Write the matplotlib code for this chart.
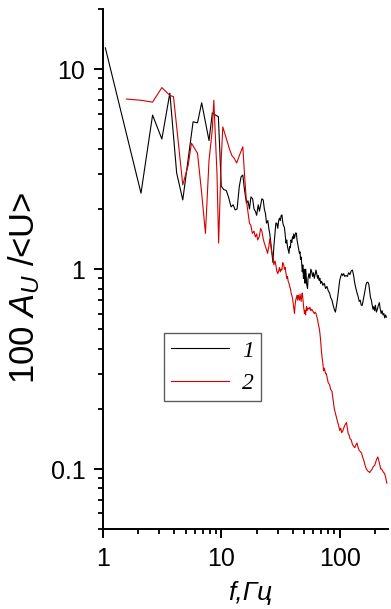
import matplotlib
matplotlib.use("Agg")
import matplotlib.pyplot as plt
from matplotlib.ticker import LogLocator, NullFormatter, FixedLocator, FixedFormatter

plt.rcParams['font.family'] = ['Liberation Sans', 'DejaVu Sans']
plt.rcParams['mathtext.fontset'] = 'custom'
plt.rcParams['mathtext.rm'] = 'Liberation Sans'
plt.rcParams['mathtext.it'] = 'Liberation Sans:italic'

# curve 1 (black)
f1 = [1.05, 2.10, 2.63, 3.15, 3.68, 4.20, 4.73, 5.78, 6.30, 6.83, 7.88, 8.40, 8.93, 9.45,
      10.0, 10.5, 11.0, 11.5, 12.1, 12.6, 13.1, 13.6, 14.2, 14.7, 15.2, 15.7, 16.3, 16.8,
      17.3, 17.8, 18.4, 18.9, 19.4, 19.9, 20.5, 21.0, 21.5, 22.0, 22.6, 23.1, 23.6, 24.1,
      24.7, 25.2, 25.7, 26.2, 26.8, 27.3, 27.8, 28.4, 28.9, 29.4, 30.0, 30.5, 31.0, 31.5,
      32.0, 32.5, 33.1, 33.6, 34.1, 34.6, 35.2, 35.7, 36.2, 36.7, 37.3, 37.8, 38.3, 38.8,
      39.4, 39.9, 40.4, 40.9, 41.5, 42.0, 42.5, 43.1, 43.6, 44.1, 44.6, 45.2, 45.7, 46.2,
      46.7, 47.3, 47.8, 48.3, 48.8, 49.4, 49.9, 50.4, 51.0, 51.5, 52.0, 52.5, 53.0, 53.5,
      54, 55, 56, 57, 58, 59, 60, 61, 62, 63, 64, 65, 66, 67, 68, 69, 70, 71, 72, 74, 76,
      78, 80, 82, 84, 86, 88, 90, 92, 94, 96, 98, 100, 102, 104, 106, 108, 110, 113, 116,
      119, 122, 125, 128, 131, 134, 137, 140, 143, 146, 149, 152, 155, 158, 161, 164, 167,
      170, 173, 176, 179, 182, 185, 188, 191, 194, 197, 200, 204, 208, 212, 216, 220, 224,
      228, 232, 236, 240, 244, 248]
a1 = [12.8, 2.40, 5.90, 4.48, 7.60, 3.03, 2.22, 5.46, 5.40, 6.80, 4.40, 6.05, 5.90, 5.80,
      2.60, 2.50, 2.48, 2.30, 2.05, 2.10, 1.98, 2.00, 2.60, 2.90, 2.96, 2.50, 2.14, 2.20,
      2.00, 2.30, 2.25, 2.00, 1.95, 1.86, 2.10, 1.95, 2.10, 2.25, 2.22, 2.00, 1.90, 1.70,
      1.75, 1.60, 1.50, 1.35, 1.20, 1.08, 1.30, 1.50, 1.70, 1.70, 1.60, 1.75, 1.80, 1.75,
      1.85, 1.87, 1.70, 1.65, 1.62, 1.50, 1.35, 1.40, 1.30, 1.25, 1.20, 1.30, 1.28, 1.40,
      1.36, 1.45, 1.42, 1.50, 1.43, 1.48, 1.52, 1.51, 1.40, 1.35, 1.30, 1.25, 1.20, 1.22,
      1.12, 1.15, 1.05, 0.97, 1.05, 0.90, 1.00, 0.92, 0.85, 1.00, 0.95, 0.85, 0.82, 0.80,
      0.90, 0.95, 0.90, 1.00, 0.97, 0.92, 0.96, 0.90, 0.94, 0.99, 0.95, 0.90, 0.93, 0.88,
      0.90, 0.85, 0.87, 0.86, 0.83, 0.85, 0.80, 0.82, 0.78, 0.76, 0.72, 0.70, 0.66, 0.63,
      0.61, 0.66, 0.72, 0.80, 0.88, 0.92, 0.95, 0.93, 0.95, 0.92, 0.93, 0.92, 0.96, 0.94,
      0.98, 0.99, 0.93, 0.85, 0.80, 0.76, 0.73, 0.69, 0.70, 0.66, 0.66, 0.70, 0.74, 0.79,
      0.84, 0.86, 0.86, 0.84, 0.78, 0.72, 0.70, 0.66, 0.63, 0.65, 0.62, 0.66, 0.61, 0.63,
      0.66, 0.68, 0.63, 0.60, 0.62, 0.59, 0.60, 0.57, 0.59, 0.575]

# curve 2 (red)
f2 = [1.58, 2.10, 2.63, 3.15, 3.68, 3.95, 4.73, 5.25, 5.60, 6.30, 6.83, 7.35, 7.88, 8.40,
      8.65, 9.20, 9.50, 9.98, 10.3, 10.8, 11.3, 11.8, 12.3, 12.8, 13.5, 14.2, 15.2, 15.7,
      16.2, 16.7, 17.3, 17.8, 18.3, 18.9, 19.4, 19.9, 20.3, 20.9, 21.5, 22.0, 22.6, 23.1,
      23.6, 24.1, 24.6, 25.2, 25.7, 26.2, 26.8, 27.3, 27.8, 28.4, 28.9, 29.4, 30.0, 30.5,
      31.0, 31.5, 32.0, 32.5, 33.0, 33.6, 34.1, 34.6, 35.2, 35.7, 36.2, 36.7, 37.3, 37.8,
      38.3, 38.9, 39.4, 39.9, 40.4, 40.9, 41.5, 42.0, 42.5, 43.1, 43.6, 44.1, 44.6, 45.2,
      45.7, 46.2, 46.7, 47.3, 47.8, 48.3, 48.8, 49.4, 49.9, 50.4, 51.0, 51.5, 52.0, 52.5,
      53.0, 54, 55, 56, 57, 58, 59, 60, 61, 62, 63, 64, 65, 66, 67, 68, 69, 70, 71, 72, 73,
      74, 75, 76, 77, 78, 80, 82, 84, 86, 88, 90, 92, 94, 96, 98, 100, 102, 104, 106, 108,
      110, 112, 114, 116, 118, 120, 122, 125, 128, 131, 134, 137, 140, 143, 146, 150, 153,
      156, 160, 164, 168, 172, 176, 179, 183, 188, 192, 197, 201, 205, 210, 214, 218, 222,
      226, 230, 235, 239, 243, 247, 250]
a2 = [7.10, 7.00, 6.85, 8.10, 7.40, 7.30, 2.64, 3.30, 4.27, 3.80, 2.40, 1.51, 3.50, 5.00,
      7.00, 3.00, 1.35, 3.50, 5.15, 4.70, 4.30, 3.95, 3.70, 3.60, 3.40, 3.70, 4.10, 3.00,
      2.30, 1.98, 1.70, 1.65, 1.51, 1.55, 1.45, 1.50, 1.40, 1.45, 1.60, 1.55, 1.42, 1.35,
      1.30, 1.25, 1.20, 1.30, 1.42, 1.30, 1.20, 1.15, 1.05, 1.10, 1.05, 0.98, 0.95, 0.98,
      1.02, 0.97, 1.00, 0.99, 1.08, 1.06, 1.00, 1.02, 0.95, 0.90, 0.92, 0.87, 0.85, 0.82,
      0.80, 0.76, 0.74, 0.72, 0.68, 0.64, 0.60, 0.66, 0.70, 0.72, 0.74, 0.70, 0.74, 0.72,
      0.70, 0.75, 0.72, 0.69, 0.74, 0.76, 0.72, 0.66, 0.63, 0.60, 0.62, 0.59, 0.63, 0.65,
      0.62, 0.64, 0.63, 0.645, 0.62, 0.63, 0.62, 0.61, 0.60, 0.61, 0.60, 0.58, 0.56, 0.53,
      0.51, 0.48, 0.44, 0.39, 0.36, 0.34, 0.31, 0.32, 0.31, 0.30, 0.30, 0.29, 0.27, 0.265,
      0.25, 0.245, 0.22, 0.20, 0.19, 0.18, 0.172, 0.165, 0.156, 0.16, 0.152, 0.155, 0.16,
      0.165, 0.168, 0.171, 0.16, 0.15, 0.148, 0.142, 0.14, 0.133, 0.13, 0.128, 0.132, 0.135,
      0.128, 0.124, 0.122, 0.12, 0.115, 0.11, 0.104, 0.10, 0.098, 0.097, 0.096, 0.098, 0.10,
      0.103, 0.104, 0.108, 0.112, 0.115, 0.11, 0.105, 0.10, 0.10, 0.098, 0.096, 0.095,
      0.092, 0.088, 0.085]

xticks = [1, 10, 100]
xlabels = ['1', '10', '100']
yticks = [0.1, 1, 10]
ylabels = ['0.1', '1', '10']

fig = plt.figure(figsize=(3.91, 6.09), dpi=100)
ax = fig.add_axes([0.263, 0.131, 0.729, 0.854])

ax.plot(f1, a1, color='black', lw=0.8, label='1')
ax.plot(f2, a2, color='#d40000', lw=0.8, label='2')

ax.set_xscale('log')
ax.set_yscale('log')
ax.set_xlim(1, 255)
ax.set_ylim(0.05, 20)

ax.xaxis.set_major_locator(FixedLocator(xticks))
ax.xaxis.set_major_formatter(FixedFormatter(xlabels))
ax.yaxis.set_major_locator(FixedLocator(yticks))
ax.yaxis.set_major_formatter(FixedFormatter(ylabels))
ax.xaxis.set_minor_locator(LogLocator(base=10, subs=range(2, 10)))
ax.yaxis.set_minor_locator(LogLocator(base=10, subs=range(2, 10)))
ax.xaxis.set_minor_formatter(NullFormatter())
ax.yaxis.set_minor_formatter(NullFormatter())

ax.spines['top'].set_visible(False)
ax.spines['right'].set_visible(False)
for s in ['left', 'bottom']:
    ax.spines[s].set_linewidth(1.4)
ax.tick_params(which='major', direction='out', length=6.5, width=1.4, labelsize=18, pad=6)
ax.tick_params(which='minor', direction='out', length=3.5, width=1.3)

fig.text(0.062, 0.527, r'100 $\mathit{A}_{\mathit{U}}$ /<U>', rotation=90,
         ha='center', va='center', fontsize=25)
fig.text(0.64, 0.027, 'f,Гц', ha='center', va='center', fontsize=19, style='italic')

leg = ax.legend(loc='upper left', bbox_to_anchor=(0.214, 0.377), borderaxespad=0,
                prop={'family': 'Liberation Serif', 'style': 'italic', 'size': 17},
                frameon=True, fancybox=False, handlelength=2.45, handletextpad=0.55,
                borderpad=0.3, labelspacing=0.45)
leg.get_frame().set_edgecolor('#333333')
leg.get_frame().set_linewidth(1.0)

fig.savefig('out.png', dpi=100)
